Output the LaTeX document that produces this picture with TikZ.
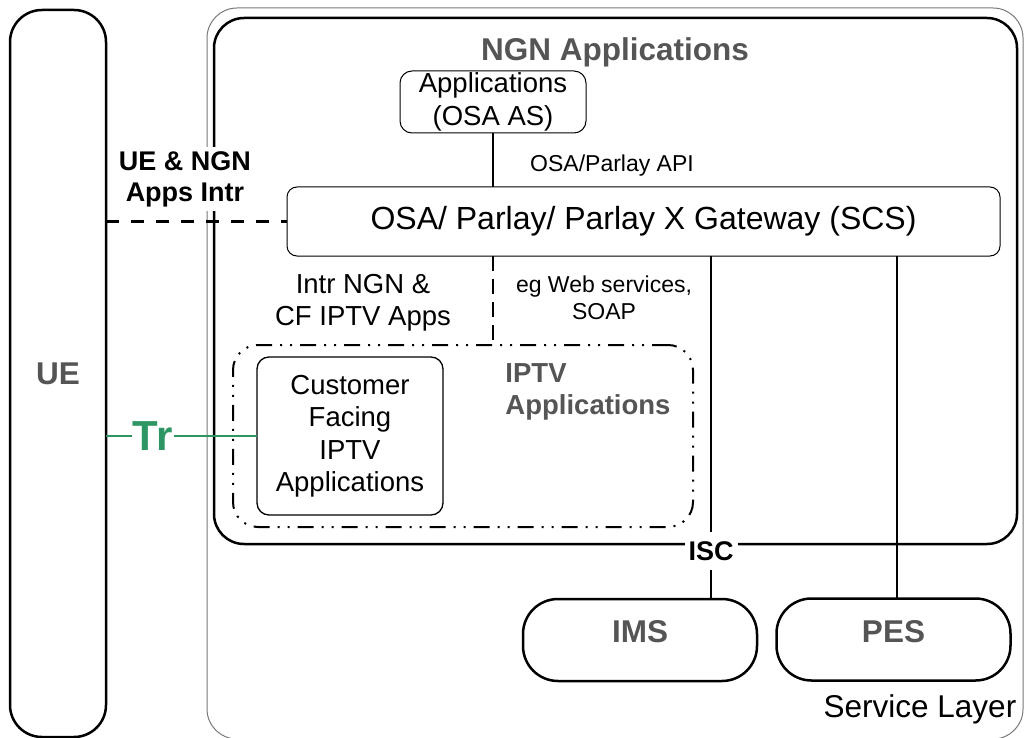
\documentclass[tikz,border=0pt]{standalone}
\usepackage{fontspec}
\setmainfont{Liberation Sans}

\definecolor{titulogris}{RGB}{85,85,85}
\definecolor{capagris}{RGB}{120,120,120}
\definecolor{trverde}{RGB}{46,150,100}

\begin{document}
\begin{tikzpicture}[x=1pt,y=-1pt, % 1 unidad = 1 pixel de la imagen
    caja/.style={draw, inner sep=0pt, outer sep=0pt, align=center},
    gruesa/.style={line width=2.5pt},
    fina/.style={line width=1pt},
    texto/.style={font=\fontsize{27.5}{32.5}\selectfont, align=center},
    textochico/.style={font=\fontsize{23}{27}\selectfont, align=center},
    titulo/.style={font=\bfseries\fontsize{31.5}{36}\selectfont, text=titulogris, align=left},
    guiones/.style={line width=2.5pt, dash pattern=on 13pt off 12pt},
    rayapunto/.style={line width=2pt, dash pattern=on 16pt off 8pt on 2pt off 8pt on 2pt off 8pt}]

        \clip (0,0) rectangle (1025,738); % Marco de la imagen

        % Capa de servicio y aplicaciones NGN
        \node[caja, draw=capagris, fina, rounded corners=30pt, minimum width=816pt, minimum height=731pt] (capa) at (615,373.5) {};
        \node[font=\fontsize{31.5}{36}\selectfont] (capalbl) at (920,709) {Service Layer};
        \node[caja, gruesa, rounded corners=30pt, minimum width=803pt, minimum height=526pt] (ngn) at (615.5,281) {};
        \node[titulo] (ngnlbl) at (615,52) {NGN Applications};

        % UE
        \node[caja, gruesa, rounded corners=32pt, minimum width=96pt, minimum height=727pt, titulo] (ue) at (58,373.5) {UE};

        % Aplicaciones OSA y gateway
        \node[caja, fina, rounded corners=12pt, minimum width=186pt, minimum height=62pt, texto] (apps) at (493,102) {Applications\\(OSA AS)};
        \node[caja, fina, rounded corners=10pt, minimum width=713pt, minimum height=69pt, font=\fontsize{32}{38}\selectfont] (gw) at (643.5,221.5) {OSA/ Parlay/ Parlay X Gateway (SCS)};
        \node[textochico] (apilbl) at (612,166) {OSA/Parlay API};
        \node[fill=white, inner xsep=2pt, inner ysep=4pt, font=\bfseries\fontsize{27}{31}\selectfont, align=center] (uelbl) at (185,179) {UE \& NGN\\Apps Intr};

        % Aplicaciones IPTV
        \node[caja, rayapunto, rounded corners=25pt, minimum width=460pt, minimum height=182pt] (iptv) at (463,436) {};
        \node[titulo, font=\bfseries\fontsize{27.5}{32}\selectfont] (iptvlbl) at (588,392) {IPTV\\Applications};
        \node[caja, line width=1.3pt, rounded corners=12pt, minimum width=186pt, minimum height=158pt, texto] (cf) at (350,436) {Customer\\Facing\\IPTV\\Applications};
        \node[texto] (intrlbl) at (363,303) {Intr NGN \&\\CF IPTV Apps};
        \node[textochico] (weblbl) at (604,298) {eg Web services,\\SOAP};

        % IMS y PES
        \foreach \n/\x/\y/\t in {ims/640/640/IMS, pes/893.5/639.5/PES} {
            \node[caja, gruesa, rounded corners=35pt, minimum width=234pt, minimum height=82pt] (\n) at (\x,\y) {};
            \node[titulo] (\n lbl) at (\x,632) {\t};
        }
        \coordinate (iscx) at (711,0);
        \coordinate (pesx) at (897,0);

        % Conexiones
        \draw[line width=2pt] (apps.south) -- (apps.south |- gw.north);
        \draw[guiones] (ue.east |- gw.west) -- (gw.west);
        \draw[line width=2pt, dash pattern=on 15pt off 8pt] (apps.south |- gw.south) -- (apps.south |- iptv.north);
        \draw[line width=2pt] (iscx |- gw.south) -- node[pos=0.86, fill=white, inner xsep=4pt, inner ysep=9pt, font=\bfseries\fontsize{27}{31}\selectfont] (isc) {ISC} (iscx |- ims.north);
        \draw[line width=2pt] (pesx |- gw.south) -- (pesx |- pes.north);
        \draw[trverde, line width=2pt] (ue.east |- cf.west) -- node[pos=0.31, fill=white, inner xsep=1pt, inner ysep=2pt, text=trverde, font=\bfseries\fontsize{42}{48}\selectfont] (tr) {Tr} (cf.west);

\end{tikzpicture}
\end{document}
